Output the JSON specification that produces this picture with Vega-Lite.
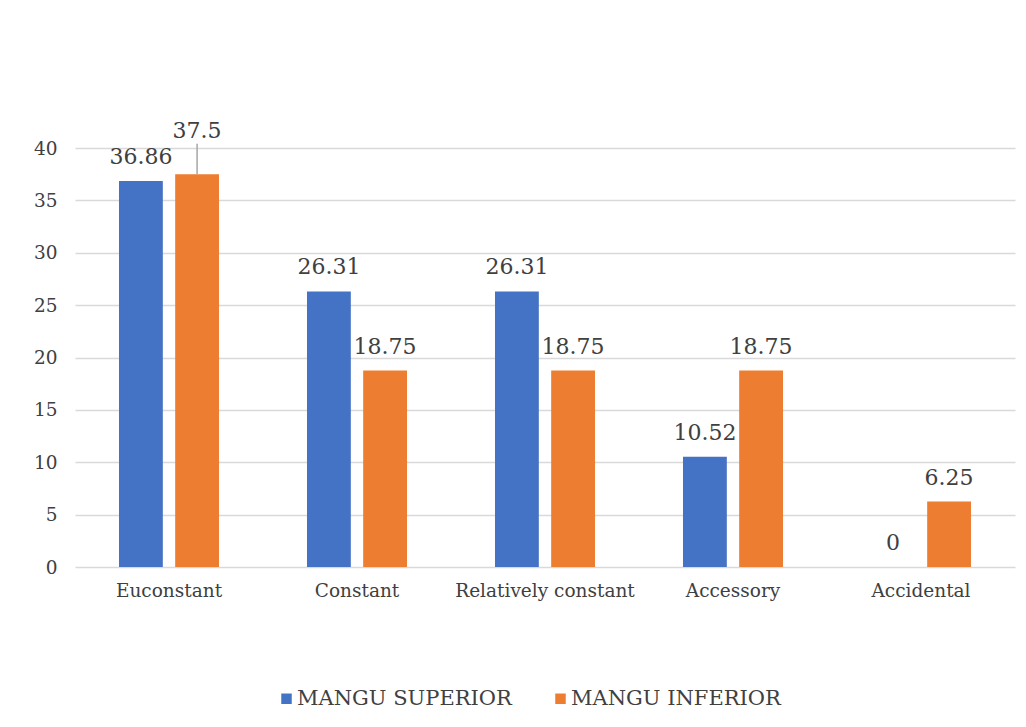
{
  "$schema": "https://vega.github.io/schema/vega-lite/v6.json",
  "width": 940,
  "height": 419,
  "autosize": {"type": "none"},
  "padding": {"left": 75, "top": 148, "right": 11, "bottom": 160},
  "background": "white",
  "config": {
    "font": "DejaVu Serif",
    "view": {"stroke": null},
    "axis": {"labelFont": "DejaVu Serif", "labelColor": "#404040", "labelFontSize": 18.5},
    "legend": {"labelFont": "DejaVu Serif", "labelFontSize": 21, "labelColor": "#404040"},
    "text": {"font": "DejaVu Serif"}
  },
  "data": {
    "values": [
      {"category": "Euconstant", "series": "MANGU SUPERIOR", "value": 36.86},
      {"category": "Euconstant", "series": "MANGU INFERIOR", "value": 37.5},
      {"category": "Constant", "series": "MANGU SUPERIOR", "value": 26.31},
      {"category": "Constant", "series": "MANGU INFERIOR", "value": 18.75},
      {"category": "Relatively constant", "series": "MANGU SUPERIOR", "value": 26.31},
      {"category": "Relatively constant", "series": "MANGU INFERIOR", "value": 18.75},
      {"category": "Accessory", "series": "MANGU SUPERIOR", "value": 10.52},
      {"category": "Accessory", "series": "MANGU INFERIOR", "value": 18.75},
      {"category": "Accidental", "series": "MANGU SUPERIOR", "value": 0},
      {"category": "Accidental", "series": "MANGU INFERIOR", "value": 6.25}
    ]
  },
  "encoding": {
    "x": {
      "field": "category", "type": "nominal", "sort": null,
      "scale": {"paddingInner": 0.468, "paddingOuter": 0.234},
      "axis": {"title": null, "labelAngle": 0, "domain": false, "ticks": false, "labelPadding": 14, "grid": false}
    },
    "xOffset": {
      "field": "series", "type": "nominal", "sort": ["MANGU SUPERIOR", "MANGU INFERIOR"],
      "scale": {"paddingInner": 0.22, "paddingOuter": 0}
    },
    "y": {
      "field": "value", "type": "quantitative",
      "scale": {"domain": [0, 40], "nice": false},
      "axis": {"title": null, "values": [0,5,10,15,20,25,30,35,40], "domain": false, "ticks": false, "labelPadding": 18, "gridColor": "#d9d9d9", "gridWidth": 1.5}
    }
  },
  "layer": [
    {
      "mark": {"type": "bar"},
      "encoding": {
        "color": {
          "field": "series", "type": "nominal", "sort": ["MANGU SUPERIOR", "MANGU INFERIOR"],
          "scale": {"domain": ["MANGU SUPERIOR", "MANGU INFERIOR"], "range": ["#4472C4", "#ED7D31"]},
          "legend": {"title": null, "orient": "none", "legendX": 201, "legendY": 540, "direction": "horizontal", "symbolType": "square", "symbolSize": 110, "symbolStrokeWidth": 0, "columnPadding": 38, "labelOffset": 0, "labelLimit": 400, "labelFont": "DejaVu Serif", "labelFontSize": 21}
        }
      }
    },
    {
      "transform": [{"filter": "datum.value != 37.5"}],
      "mark": {"type": "text", "baseline": "middle", "dy": -24, "fontSize": 22, "color": "#404040"},
      "encoding": {"text": {"field": "value", "type": "quantitative"}}
    },
    {
      "transform": [{"filter": "datum.value == 37.5"}],
      "mark": {"type": "text", "baseline": "middle", "dy": -43, "fontSize": 22, "color": "#404040"},
      "encoding": {"text": {"field": "value", "type": "quantitative"}}
    },
    {
      "transform": [{"filter": "datum.value == 37.5"}, {"calculate": "40.4", "as": "top"}],
      "mark": {"type": "rule", "color": "#a6a6a6", "strokeWidth": 1.5},
      "encoding": {"y2": {"field": "top"}}
    }
  ]
}
